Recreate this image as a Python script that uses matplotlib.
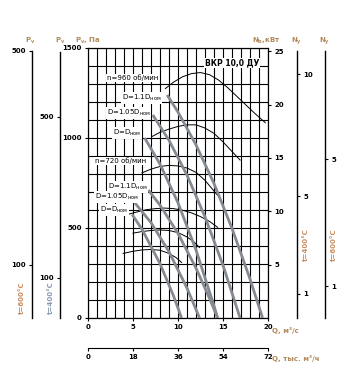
import matplotlib.pyplot as plt

# pressure curves, Q in m3/s, P in Pa
q960_d11 = [8.8, 10, 12, 14, 16, 18, 19.4]
p960_d11 = [1239, 1144, 962, 747, 498, 217, 0]
q960_d105 = [7.2, 9, 11, 13, 15, 16.9]
p960_d105 = [1128, 987, 794, 562, 293, 0]
q960_d10 = [6.3, 8, 10, 12, 14, 14.4]
p960_d10 = [1000, 855, 640, 378, 68, 0]
q720_d11 = [6.7, 8, 10, 12, 13.5, 14.4]
p720_d11 = [711, 627, 470, 277, 110, 0]
q720_d105 = [5.2, 7, 9, 11, 12.4]
p720_d105 = [640, 530, 368, 166, 0]
q720_d10 = [4.9, 6, 8, 9.5, 10.4]
p720_d10 = [575, 493, 302, 123, 0]

# power curves, N in kW
nq960_d11 = [8.6, 9.5, 10.5, 11.5, 12.5, 13.5, 14.5, 15.5, 16.5, 17.5, 18.5, 19.7]
n960_d11 = [21.5, 22.1, 22.6, 22.9, 23.0, 22.8, 22.3, 21.6, 20.8, 20.0, 19.2, 18.3]
nq960_d105 = [7.1, 8, 9, 10, 11, 12, 13, 14, 15, 16, 16.9]
n960_d105 = [17.0, 17.4, 17.7, 17.95, 18.1, 18.1, 17.8, 17.3, 16.5, 15.6, 14.8]
nq960_d10 = [6.0, 7, 8, 9, 10, 11, 12, 13, 14, 14.4]
n960_d10 = [13.6, 13.95, 14.2, 14.3, 14.25, 14.05, 13.65, 12.9, 11.9, 11.5]
nq720_d11 = [4.4, 5.5, 6.5, 7.5, 8.5, 9.5, 10.5, 11.5, 12.5, 13.5, 14.4]
n720_d11 = [9.7, 9.95, 10.15, 10.25, 10.3, 10.25, 10.1, 9.85, 9.5, 9.05, 8.5]
nq720_d105 = [5.0, 6, 7, 8, 9, 10, 11, 11.8, 12.4]
n720_d105 = [7.95, 8.1, 8.2, 8.25, 8.2, 8.0, 7.6, 7.1, 6.6]
nq720_d10 = [3.9, 5, 6, 7, 8, 9, 9.8, 10.4]
n720_d10 = [6.05, 6.25, 6.38, 6.42, 6.35, 6.05, 5.65, 5.2]

W, H = 349, 375
plt.rcParams['font.family'] = 'DejaVu Sans'
plt.rcParams['font.size'] = 5
plt.rcParams['font.weight'] = 'bold'

fig = plt.figure(figsize=(W / 100, H / 100), dpi=100)
rect = [88 / W, 1 - 318 / H, 180 / W, 270 / H]
ax = fig.add_axes(rect)
axn = ax.twinx()
ax.set_zorder(axn.get_zorder() + 1)
ax.patch.set_visible(False)

gray = '#858a91'
tan = '#b08a5a'

ax.set_xlim(0, 20)
ax.set_ylim(0, 1500)
ax.set_xticks([0, 5, 10, 15, 20])
ax.set_xticks(range(21), minor=True)
ax.set_yticks([0, 500, 1000, 1500])
ax.set_yticks(range(0, 1501, 100), minor=True)
ax.grid(which='both', color='black', lw=0.8)
ax.tick_params(which='minor', length=0)
ax.tick_params(which='major', length=2.5, width=0.8, pad=2)
for s in ax.spines.values():
    s.set_linewidth(0.8)

for q, p in [(q960_d11, p960_d11), (q960_d105, p960_d105), (q960_d10, p960_d10),
             (q720_d11, p720_d11), (q720_d105, p720_d105), (q720_d10, p720_d10)]:
    ax.plot(q, p, color=gray, lw=2.0, solid_capstyle='butt', zorder=3)

axn.set_ylim(0, 25.3)
axn.set_yticks([5, 10, 15, 20, 25])
axn.tick_params(length=2.5, width=0.8, pad=2)
for q, n in [(nq960_d11, n960_d11), (nq960_d105, n960_d105), (nq960_d10, n960_d10),
             (nq720_d11, n720_d11), (nq720_d105, n720_d105), (nq720_d10, n720_d10)]:
    axn.plot(q, n, color='black', lw=0.7)

box = dict(facecolor='white', edgecolor='none', pad=0.6)
nom = 'D$_\\mathregular{ном}$'
labels = [
    (2.1, 1333, 'n=960 об/мин'), (3.8, 1222, 'D=1.1' + nom),
    (2.1, 1139, 'D=1.05' + nom), (2.8, 1028, 'D=' + nom),
    (0.8, 872, 'n=720 об/мин'), (2.2, 728, 'D=1.1' + nom),
    (0.8, 672, 'D=1.05' + nom), (1.3, 600, 'D=' + nom),
]
for x, y, t in labels:
    ax.text(x, y, t, fontsize=5, fontweight='normal', va='center', ha='left',
            bbox=box, zorder=5)
ax.text(13.0, 1417, 'ВКР 10,0 ДУ', fontsize=5.5, va='center', ha='left', bbox=box, zorder=5)

# pressure and power scales for hot gas
def side_axis(pos, side, top, ticks, bound):
    a = fig.add_axes(rect)
    a.patch.set_visible(False)
    a.xaxis.set_visible(False)
    for k in ['top', 'bottom', 'left', 'right']:
        a.spines[k].set_visible(k == side)
    a.spines[side].set_position(('axes', pos))
    a.spines[side].set_bounds(0, bound)
    a.spines[side].set_linewidth(1.0)
    a.set_ylim(0, top)
    a.set_yticks(ticks)
    if side == 'right':
        a.yaxis.tick_right()
    else:
        a.yaxis.tick_left()
    a.tick_params(length=2.5, width=0.8, pad=2)
    return a

side_axis((32 - 88) / 180, 'left', 505, [100, 500], 500)
side_axis((60 - 88) / 180, 'left', 670, [100, 500], 660)
side_axis((297 - 88) / 180, 'right', 11.07, [1, 5, 10], 10.95)
side_axis((325 - 88) / 180, 'right', 8.5, [1, 5], 8.4)

# second flow scale
sec = ax.secondary_xaxis(-30 / 270, functions=(lambda v: v * 3.6, lambda v: v / 3.6))
sec.set_xticks([0, 18, 36, 54, 72])
sec.tick_params(length=2.5, width=0.8, pad=2)
sec.spines['bottom'].set_linewidth(0.8)

def px(x, y):
    return x / W, 1 - y / H

fig.text(*px(30, 41), 'P$_\\mathregular{v}$', color=tan, ha='center', va='center', fontsize=5)
fig.text(*px(60, 41), 'P$_\\mathregular{v}$', color=tan, ha='center', va='center', fontsize=5)
fig.text(*px(88, 41), 'P$_\\mathregular{v}$, Па', color=tan, ha='center', va='center', fontsize=5)
fig.text(*px(266, 41), 'N$_\\mathregular{b}$,кВт', color=tan, ha='center', va='center', fontsize=5)
fig.text(*px(297, 41), 'N$_\\mathregular{y}$', color=tan, ha='center', va='center', fontsize=5)
fig.text(*px(325, 41), 'N$_\\mathregular{y}$', color=tan, ha='center', va='center', fontsize=5)
fig.text(*px(272, 330), 'Q, м³/с', color=tan, ha='left', va='center', fontsize=5)
fig.text(*px(272, 359), 'Q, тыс. м³/ч', color=tan, ha='left', va='center', fontsize=5)
fig.text(*px(22, 298), 't=600°C', color='#c98e62', ha='center', va='center', rotation=90, fontsize=5)
fig.text(*px(51, 298), 't=400°C', color='#8a9ab0', ha='center', va='center', rotation=90, fontsize=5)
fig.text(*px(306, 245), 't=400°C', color='#c98e62', ha='center', va='center', rotation=90, fontsize=5)
fig.text(*px(334, 245), 't=600°C', color='#c98e62', ha='center', va='center', rotation=90, fontsize=5)

fig.savefig('out.png', dpi=100)
